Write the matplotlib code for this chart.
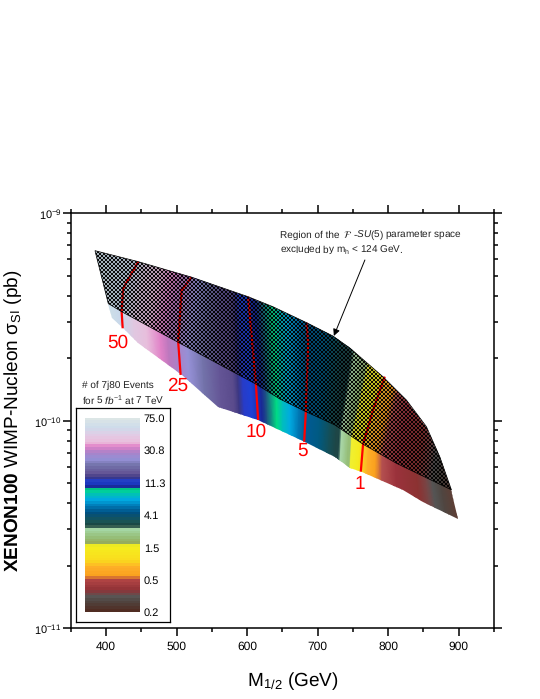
import numpy as np
import matplotlib
matplotlib.use('Agg')
import matplotlib.pyplot as plt
from matplotlib.colors import LinearSegmentedColormap
from matplotlib.patches import Polygon
from matplotlib.ticker import LogLocator, MultipleLocator, NullFormatter, LogFormatterMathtext

plt.rcParams['font.family'] = ['Liberation Sans', 'DejaVu Sans']
plt.rcParams['mathtext.fontset'] = 'custom'
plt.rcParams['mathtext.rm'] = 'Liberation Sans'
plt.rcParams['mathtext.it'] = 'Liberation Sans:italic'
plt.rcParams['mathtext.bf'] = 'Liberation Sans:bold'
plt.rcParams['text.hinting'] = 'no_hinting'
plt.rcParams['text.hinting_factor'] = 1

# Bordes de la region (M1/2, log10 sigma)
top_m = [384.4, 445.8, 521.4, 601.6, 636.5, 684.3, 721.5, 745.6, 792.4, 825.9, 854.2, 873.1, 889.7, 899.0]
top_log = [-9.180, -9.233, -9.308, -9.402, -9.450, -9.527, -9.591, -9.649, -9.787, -9.900, -10.028, -10.173, -10.333, -10.475]
low_m = [403.3, 408.1, 423.7, 445.8, 507.2, 559.1, 615.7, 681.9, 724.4, 745.6, 762.2, 821.1, 849.4, 899.0]
low_log = [-9.437, -9.506, -9.554, -9.627, -9.779, -9.935, -9.996, -10.101, -10.173, -10.226, -10.245, -10.333, -10.390, -10.475]
mid_m = [384.4, 403.3, 422.2, 502.4, 612.5, 646.5, 683.3, 724.4, 764.4, 811.8, 889.7]
mid_log = [-9.180, -9.435, -9.474, -9.622, -9.823, -9.895, -9.956, -10.020, -10.113, -10.205, -10.333]

# Colores a lo largo del borde inferior
strip_m = [398.0, 405.7, 422.7, 441, 459.5, 479.3, 490.6, 503.4, 519, 540.2, 564.3, 582.7, 589.8, 596.8, 608.2,
           622.3, 629.4, 642.2, 650.7, 660.6, 671.9, 681.9, 700.3, 714.5, 724.4, 728.6, 731.5, 741.4, 744.2, 745.6,
           757, 769.7, 781, 791, 812.2, 844.8, 859, 868.9, 883, 905]
strip_rgb = [(205, 222, 232), (205, 222, 232), (200, 215, 235), (225, 200, 225), (232, 190, 220), (225, 130, 200),
             (190, 120, 190), (170, 130, 200), (150, 145, 215), (115, 115, 170), (100, 85, 150), (90, 75, 140),
             (60, 55, 130), (40, 60, 200), (30, 65, 215), (25, 40, 150), (30, 90, 130), (0, 220, 130), (0, 190, 190),
             (0, 170, 225), (0, 120, 180), (0, 90, 150), (0, 90, 130), (20, 80, 90), (30, 70, 70), (30, 70, 70),
             (170, 215, 170), (150, 190, 120), (150, 190, 120), (240, 240, 50), (245, 235, 30), (255, 175, 40),
             (250, 160, 30), (180, 80, 80), (155, 50, 60), (140, 50, 50), (120, 70, 70), (85, 85, 85), (80, 70, 65),
             (100, 60, 50)]

# Desplazamiento de las bandas entre borde inferior y superior
shift_m = [403.3, 423.7, 505.8, 615.7, 680.9, 761.2, 899.0]
shift_top = [-19, 22, 15.6, -14, 3.4, 34, -9.3]
shift_mid = [0, -1.5, -3.4, -3.2, 2.4, 3.2, -9.3]

# Contornos rojos
contours = {
    '50': ([445.8, 424.5, 422.2, 423.7], [-9.233, -9.361, -9.474, -9.554], 417, -9.624),
    '25': ([521.4, 507.2, 502.4, 505.8], [-9.308, -9.370, -9.622, -9.779], 501.6, -9.831),
    '10': ([601.6, 604, 612.5, 615.7], [-9.402, -9.498, -9.823, -9.996], 613.5, -10.053),
    '5': ([684.3, 686.5, 683.3, 680.9], [-9.527, -9.627, -9.956, -10.101], 679, -10.146),
    '1': ([795.2, 778.6, 764.4, 761.2], [-9.787, -9.948, -10.113, -10.245], 759.8, -10.305),
}

# Barra de color de la leyenda
bar_pos = [143, 170, 190, 215, 228, 245, 265, 285, 310, 322, 335, 350, 358, 375, 390, 410, 430, 455, 470, 480,
           505, 525, 530, 575, 595, 625, 632, 665, 685, 700, 727]
bar_rgb = [(220, 230, 230), (205, 220, 235), (225, 205, 230), (235, 190, 220), (225, 130, 200), (170, 130, 200),
           (150, 145, 215), (115, 115, 170), (100, 85, 150), (60, 55, 130), (30, 65, 215), (25, 40, 150),
           (0, 220, 130), (0, 190, 190), (0, 170, 225), (0, 120, 180), (0, 80, 130), (25, 85, 85), (25, 65, 60),
           (165, 215, 165), (150, 190, 120), (150, 170, 90), (245, 240, 30), (250, 220, 30), (255, 175, 40),
           (250, 160, 30), (180, 70, 70), (145, 50, 55), (90, 85, 85), (80, 70, 65), (80, 45, 35)]
bar_labels = ['0.2', '0.5', '1.5', '4.1', '11.3', '30.8', '75.0']

W, H = 540, 699


def box(left, top, right, bottom):
    return [left / W, 1 - bottom / H, (right - left) / W, (bottom - top) / H]


fig = plt.figure(figsize=(5.4, 6.99), dpi=100)
ax = fig.add_axes(box(70.7, 213.3, 494, 628.3))
ax.set_yscale('log')

# Region completa, para recortar
outline = list(zip(top_m, 10.0 ** np.array(top_log))) + list(zip(low_m[::-1], 10.0 ** np.array(low_log[::-1])))
clip = Polygon(outline, closed=True, fill=False, edgecolor='none', transform=ax.transData)
ax.add_patch(clip)

# Malla con degradado
m_low = np.array(strip_m, dtype=float)
m_top = m_low + np.interp(m_low, shift_m, shift_top)
m_mid = m_low + np.interp(m_low, shift_m, shift_mid)
y_top = np.interp(m_top, top_m, top_log) + 0.03
y_mid = np.interp(m_mid, mid_m, mid_log)
y_low = np.interp(m_low, low_m, low_log) - 0.03
X = np.vstack([m_top, m_mid, m_low])
Y = 10.0 ** np.vstack([y_top, y_mid, y_low])
rgb = np.array(strip_rgb) / 255.0
C = np.stack([rgb, rgb, rgb])
mesh = ax.pcolormesh(X, Y, C, shading='gouraud', zorder=1)
mesh.set_clip_path(clip)

# Contornos
for label, (cm, cl, tx, ty) in contours.items():
    ax.plot(cm, 10.0 ** np.array(cl), color='red', lw=1.6, zorder=2, solid_capstyle='butt')
    ax.text(tx, 10.0 ** ty, label, color='red', fontsize=14, ha='center', va='center', zorder=5)

# Trama negra en la zona excluida
hatch_m = top_m[:-1] + mid_m[::-1]
hatch_log = top_log[:-1] + mid_log[::-1]
hatch_clip = Polygon(list(zip(hatch_m, 10.0 ** np.array(hatch_log))), closed=True, facecolor='none',
                     edgecolor='black', lw=0.5, transform=ax.transData, zorder=4)
ax.add_patch(hatch_clip)
rows, cols = np.indices((415, 424))
hatch = np.zeros((415, 424, 4))
hatch[..., 3] = np.where(((rows // 2) + (cols // 2)) % 2 == 0, 0.95, 0.2)
im = ax.imshow(hatch, extent=(0, 1, 0, 1), transform=ax.transAxes, aspect='auto', interpolation='nearest', zorder=3)
im.set_clip_path(hatch_clip)

ax.set_xlim(350, 950)
ax.set_ylim(1e-11, 1e-9)

# Ejes
ax.xaxis.set_major_locator(MultipleLocator(100))
ax.xaxis.set_minor_locator(MultipleLocator(50))
ax.set_yticks([1e-11, 1e-10, 1e-9])
ax.yaxis.set_minor_locator(LogLocator(base=10, subs=np.arange(2, 10), numticks=12))
ax.yaxis.set_major_formatter(LogFormatterMathtext())
ax.yaxis.set_minor_formatter(NullFormatter())
ax.tick_params(which='major', direction='out', length=5.5, width=1.1, top=True, right=True, labelsize=8.5, pad=4)
ax.tick_params(which='minor', direction='out', length=3, width=1.1, top=True, right=True)
ax.tick_params(axis='y', which='major', labelsize=8, pad=1)
for s in ax.spines.values():
    s.set_linewidth(1.1)
ax.set_xlabel('M$_{1/2}$ (GeV)', fontsize=13.5)
ax.xaxis.set_label_coords((293 - 70.7) / 423.3, -(681 - 628.3) / 415, transform=ax.transAxes)
ax.xaxis.label.set_va('center')
ax.set_ylabel(r'$\mathbf{XENON100}$ WIMP-Nucleon σ$_{\mathrm{SI}}$ (pb)', fontsize=13.7)
ax.yaxis.set_label_coords(-(70.7 - 13) / 423.3, 0.5, transform=ax.transAxes)
ax.yaxis.label.set_va('center')

# Anotacion
ax.text(646.5, 10.0 ** -9.105, 'Region of the', fontsize=7.4, va='center', color='#222222')
ax.text(735.6, 10.0 ** -9.105, '$\\mathcal{F}$', fontsize=7.5, va='center', color='#222222', math_fontfamily='stix')
ax.text(749.5, 10.0 ** -9.105, '-$\\mathit{SU}$(5) parameter space', fontsize=7.5, va='center', color='#222222')
ax.text(646.5, 10.0 ** -9.177, 'excluded by m$_{\\mathrm{h}}$ < 124 GeV.', fontsize=7.5, va='center', color='#222222')
ax.annotate('', xy=(723, 10.0 ** -9.591), xytext=(767, 10.0 ** -9.225),
            arrowprops=dict(arrowstyle='-|>', color='black', lw=0.7, shrinkA=0, shrinkB=0), zorder=6)

# Leyenda
fig.text(82 / W, 1 - 385.7 / H, '# of 7j80 Events', fontsize=7.5, va='center', color='#222222')
fig.text(82 / W, 1 - 400 / H, 'for 5 $\\mathit{fb}^{-1}$ at 7 TeV', fontsize=7.5, va='center', color='#222222')

frame = fig.add_axes(box(76, 407.7, 170.3, 621.7))
frame.set_xticks([])
frame.set_yticks([])
for s in frame.spines.values():
    s.set_linewidth(0.9)

span = bar_pos[-1] - bar_pos[0]
stops = [(p - bar_pos[0]) / span for p in bar_pos]
cmap = LinearSegmentedColormap.from_list('eventos', [(s, np.array(c) / 255.0) for s, c in zip(stops, bar_rgb)], N=72)
bar = fig.add_axes(box(85.3, 417.7, 139.7, 612.3))
bar.imshow(np.linspace(0, 1, 195)[:, None], cmap=cmap, aspect='auto', extent=(0, 1, 0, 6),
           interpolation='nearest')
bar.set_xticks([])
bar.set_yticks(range(7))
bar.set_yticklabels(bar_labels, fontsize=7.6)
bar.yaxis.tick_right()
bar.tick_params(axis='y', length=0, pad=3)
for s in bar.spines.values():
    s.set_visible(False)

fig.savefig('out.png', dpi=100)
